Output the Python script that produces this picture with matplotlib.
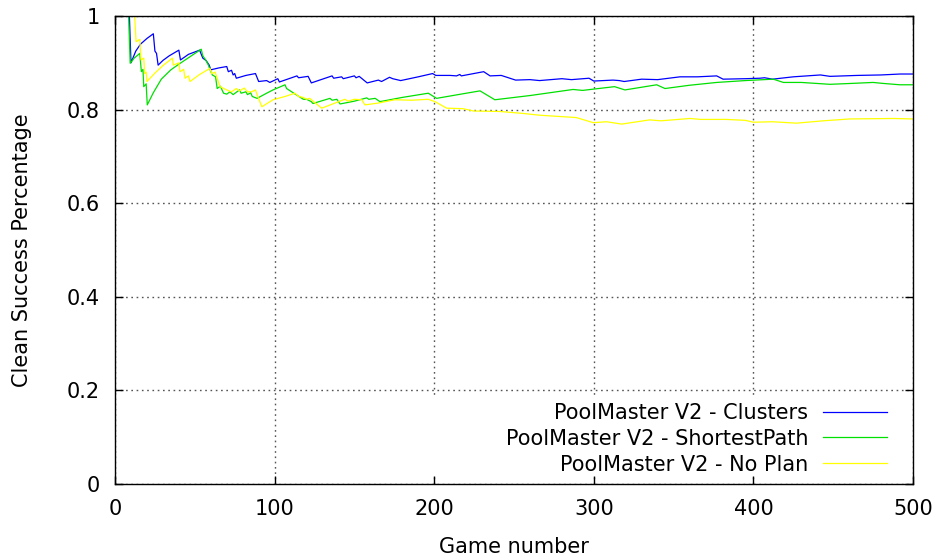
import matplotlib
matplotlib.use("Agg")
import matplotlib.pyplot as plt
import matplotlib.patches as mpatches

plt.rcParams["font.family"] = ["DejaVu Sans"]

# Clusters (blue)
clusters_game = [1, 9, 10, 13, 16, 20, 24, 25, 26, 27, 30, 34, 40, 41, 46, 53, 55, 57, 59,
                 60, 65, 70, 71, 73, 74, 75, 76, 82, 88, 90, 95, 97, 102, 103, 114, 115,
                 121, 123, 136, 137, 142, 143, 150, 151, 153, 158, 165, 167, 172, 174, 179,
                 190, 199, 201, 210, 214, 216, 217, 231, 235, 242, 251, 260, 266, 280, 286,
                 297, 300, 312, 316, 319, 330, 340, 354, 365, 377, 381, 395, 404, 407, 412,
                 425, 442, 448, 465, 480, 492, 500]
clusters_rate = [1.0, 1.0, 0.90, 0.925, 0.94, 0.952, 0.962, 0.925, 0.92, 0.895, 0.905, 0.915,
                 0.927, 0.906, 0.918, 0.927, 0.91, 0.905, 0.895, 0.885, 0.889, 0.892, 0.881,
                 0.884, 0.874, 0.877, 0.867, 0.873, 0.877, 0.86, 0.862, 0.858, 0.866, 0.859,
                 0.872, 0.868, 0.871, 0.857, 0.872, 0.867, 0.87, 0.866, 0.872, 0.868, 0.871,
                 0.857, 0.863, 0.86, 0.869, 0.866, 0.862, 0.87, 0.877, 0.873, 0.873, 0.872,
                 0.875, 0.872, 0.881, 0.872, 0.873, 0.863, 0.864, 0.862, 0.866, 0.864, 0.867,
                 0.861, 0.863, 0.862, 0.86, 0.865, 0.864, 0.87, 0.87, 0.872, 0.865, 0.866,
                 0.867, 0.868, 0.865, 0.87, 0.874, 0.871, 0.873, 0.874, 0.876, 0.876]

# ShortestPath (green)
shortest_game = [1, 8.5, 9.5, 12, 15.5, 16.5, 17.5, 18, 19.5, 20.2, 24, 29, 35, 40, 47, 54,
                 55, 57, 58.5, 60, 61, 63, 64, 66, 68, 70, 72, 74, 78, 79, 82, 83, 85, 86,
                 89, 95, 99, 106.5, 107.5, 110.7, 112, 118, 120, 123, 124, 134.7, 136, 139,
                 141, 150, 157.7, 159, 163, 166, 180, 196.3, 201.5, 215, 228.7, 238, 260,
                 287, 293, 313, 319.5, 339.4, 344.6, 360, 377, 395, 412.5, 418.8, 430, 448,
                 462, 475, 481, 491.8, 500]
shortest_rate = [1.0, 1.0, 0.899, 0.91, 0.92, 0.881, 0.886, 0.849, 0.855, 0.81, 0.836, 0.865,
                 0.885, 0.897, 0.913, 0.929, 0.915, 0.905, 0.895, 0.881, 0.874, 0.87, 0.845,
                 0.85, 0.835, 0.833, 0.838, 0.832, 0.842, 0.835, 0.838, 0.832, 0.836, 0.828,
                 0.824, 0.835, 0.842, 0.853, 0.845, 0.838, 0.835, 0.822, 0.822, 0.817, 0.813,
                 0.824, 0.82, 0.822, 0.812, 0.818, 0.825, 0.822, 0.824, 0.817, 0.826, 0.835,
                 0.824, 0.832, 0.84, 0.821, 0.83, 0.843, 0.841, 0.849, 0.842, 0.853, 0.845,
                 0.852, 0.858, 0.862, 0.865, 0.858, 0.858, 0.854, 0.856, 0.858, 0.856, 0.853,
                 0.853]

# No Plan (yellow)
noplan_game = [1, 12.3, 13.2, 15.5, 16.3, 18, 18.6, 19.5, 20, 25, 30, 36, 36.5, 40, 40.7, 43,
               43.9, 46, 47, 53, 59.5, 60.5, 62.7, 65.8, 70, 73, 76, 78, 81, 83, 85.6, 88,
               89, 92, 99, 106.5, 112.8, 115, 118, 120, 122, 129.5, 144, 146, 150, 154.6,
               156.6, 165, 175.4, 186, 196.3, 200.5, 207.8, 218, 224.5, 241, 255, 266, 289,
               299.7, 308, 317.5, 335, 342, 360.3, 367, 383, 395, 400, 412, 427, 443.8,
               460.5, 487.7, 500]
noplan_rate = [1.0, 1.0, 0.945, 0.95, 0.906, 0.91, 0.877, 0.88, 0.86, 0.878, 0.894, 0.91,
               0.895, 0.9, 0.881, 0.886, 0.867, 0.872, 0.86, 0.875, 0.888, 0.877, 0.88, 0.849,
               0.842, 0.838, 0.845, 0.84, 0.846, 0.838, 0.838, 0.842, 0.832, 0.806, 0.821,
               0.828, 0.835, 0.828, 0.826, 0.822, 0.824, 0.803, 0.822, 0.818, 0.822, 0.821,
               0.81, 0.814, 0.821, 0.82, 0.822, 0.817, 0.803, 0.802, 0.797, 0.796, 0.792,
               0.788, 0.783, 0.772, 0.774, 0.769, 0.778, 0.776, 0.781, 0.779, 0.779, 0.777,
               0.773, 0.774, 0.771, 0.776, 0.78, 0.781, 0.78]

x_ticks = [0, 100, 200, 300, 400, 500]
y_ticks = [0, 0.2, 0.4, 0.6, 0.8, 1]
y_tick_labels = ["0", "0.2", "0.4", "0.6", "0.8", "1"]

fig = plt.figure(figsize=(9.39, 5.59), dpi=100)
ax = fig.add_axes([0.1225, 0.1342, 0.8498, 0.8372])

ax.plot(clusters_game, clusters_rate, color="#0000ff", lw=0.9,
        label="PoolMaster V2 - Clusters")
ax.plot(shortest_game, shortest_rate, color="#00e000", lw=0.9,
        label="PoolMaster V2 - ShortestPath")
ax.plot(noplan_game, noplan_rate, color="#ffff00", lw=0.9,
        label="PoolMaster V2 - No Plan")

ax.set_xlim(0, 500)
ax.set_ylim(0, 1)
ax.set_xticks(x_ticks)
ax.set_yticks(y_ticks)
ax.set_yticklabels(y_tick_labels)
ax.tick_params(direction="in", top=True, right=True, length=6, width=1,
               labelsize=15, pad=11)
ax.grid(True, color="#555555", lw=1.0, linestyle=(0, (1.2, 2.6)))
ax.set_axisbelow(True)
for s in ax.spines.values():
    s.set_linewidth(1.0)

# white key box hiding the grid, gnuplot style
ax.add_patch(mpatches.Rectangle((0.388, 0.017), 0.596, 0.167, transform=ax.transAxes,
                                facecolor="white", edgecolor="none", zorder=1.5))

ax.set_xlabel("Game number", fontsize=15, labelpad=13)
ax.set_ylabel("Clean Success Percentage", fontsize=15, labelpad=25)

leg = ax.legend(loc="lower right", fontsize=15, markerfirst=False, frameon=False,
                handlelength=3.1, handletextpad=0.7, labelspacing=0.28,
                bbox_to_anchor=(0.968, 0.02), borderaxespad=0, borderpad=0)
for t in leg.get_texts():
    t.set_ha("right")

fig.savefig("out.png", dpi=100)
